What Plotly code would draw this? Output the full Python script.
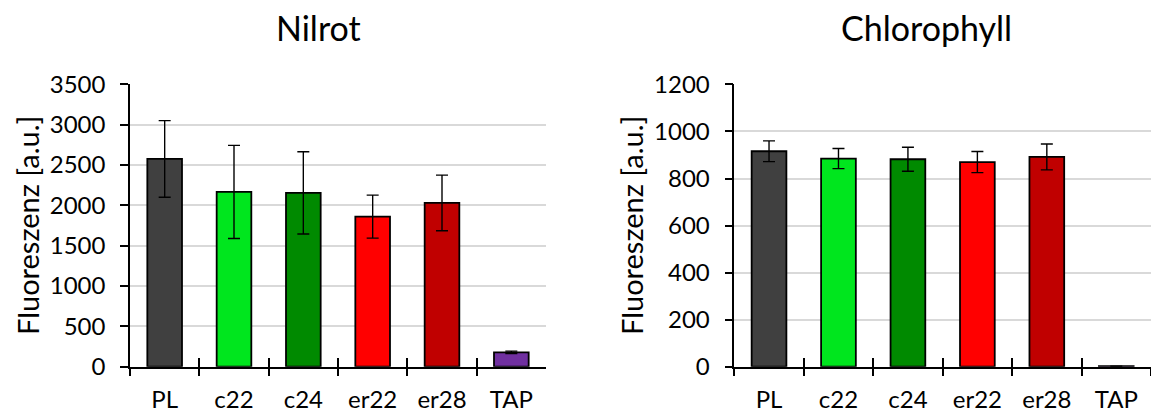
import plotly.graph_objects as go

categories = ["PL", "c22", "c24", "er22", "er28", "TAP"]
colors = ["#404040", "#00E61E", "#008A00", "#FF0000", "#C00000", "#7030A0"]

nilrot_values = [2577, 2167, 2155, 1861, 2031, 178]
nilrot_errors = [475, 577, 510, 267, 345, 15]

chloro_values = [916, 885, 882, 870, 892, 2]
chloro_errors = [44, 43, 51, 45, 55, 0]

nilrot_title = "Nilrot"
chloro_title = "Chlorophyll"
y_label = "Fluoreszenz [a.u.]"

FONT = "Lato"
fig = go.Figure()

def add_bars(vals, errs, xa, ya):
    fig.add_trace(go.Bar(
        x=categories, y=vals, xaxis=xa, yaxis=ya,
        marker=dict(color=colors, line=dict(color="black", width=1.8)),
        error_y=dict(type="data", array=errs, visible=True, color="black",
                     thickness=1.4, width=6),
        showlegend=False, hoverinfo="skip",
    ))

add_bars(nilrot_values, nilrot_errors, "x", "y")
add_bars(chloro_values, chloro_errors, "x2", "y2")

# invisible helper traces for inside (crossing) ticks on category axes
for xa, ya in (("x3", "y"), ("x4", "y2")):
    fig.add_trace(go.Scatter(x=categories, y=[0] * len(categories), xaxis=xa, yaxis=ya,
                             mode="markers", marker=dict(opacity=0),
                             showlegend=False, hoverinfo="skip"))

ydom = [0.1185, 0.797]
left_dom = [130 / 1151, 546 / 1151]
right_dom = [734.3 / 1151, 1.0]

tickfont = dict(family=FONT, size=24, color="black")

def xaxis_cfg(dom, anchor):
    return dict(domain=dom, anchor=anchor, type="category", categoryarray=categories,
                categoryorder="array", range=[-0.5, 5.5],
                showline=True, linecolor="black", linewidth=1.5,
                ticks="outside", tickson="boundaries", ticklen=8, tickwidth=1.5,
                tickcolor="black", showgrid=False, tickfont=tickfont,
                ticklabelstandoff=11, automargin=False, fixedrange=True)

def xaxis_inside(over, anchor):
    return dict(overlaying=over, anchor=anchor, type="category", categoryarray=categories,
                categoryorder="array", range=[-0.5, 5.5],
                showline=False, ticks="inside", tickson="boundaries", ticklen=9,
                tickwidth=1.5, tickcolor="black", showgrid=False,
                showticklabels=False, automargin=False, fixedrange=True)

def yaxis_cfg(rng, dtick, anchor):
    return dict(domain=ydom, anchor=anchor, range=rng, dtick=dtick, tick0=0,
                showline=True, linecolor="black", linewidth=1.5,
                ticks="outside", ticklen=8, tickwidth=1.5, tickcolor="black",
                showgrid=True, gridcolor="#D9D9D9", gridwidth=2,
                zeroline=False, tickfont=tickfont, ticklabelstandoff=10,
                automargin=False, fixedrange=True)

def yaxis_inside(over, anchor, rng, dtick):
    return dict(overlaying=over, anchor=anchor, range=rng, dtick=dtick, tick0=0,
                side="left", showline=False, ticks="inside", ticklen=9, tickwidth=1.5,
                tickcolor="black", showgrid=False, zeroline=False,
                showticklabels=False, automargin=False, fixedrange=True)

fig.update_layout(
    width=1151, height=416,
    margin=dict(l=0, r=0, t=0, b=0),
    paper_bgcolor="white", plot_bgcolor="white",
    bargap=0.5,
    font=dict(family=FONT, color="black"),
    xaxis=xaxis_cfg(left_dom, "y"),
    yaxis=yaxis_cfg([0, 3500], 500, "x"),
    xaxis2=xaxis_cfg(right_dom, "y2"),
    yaxis2=yaxis_cfg([0, 1200], 200, "x2"),
    xaxis3=xaxis_inside("x", "y"),
    xaxis4=xaxis_inside("x2", "y2"),
    yaxis3=yaxis_inside("y", "x", [0, 3500], 500),
    yaxis4=yaxis_inside("y2", "x2", [0, 1200], 200),
    annotations=[
        dict(text=nilrot_title, x=318 / 1151, y=(416 - 28) / 416, xref="paper", yref="paper",
             showarrow=False, font=dict(family=FONT, size=34, color="black"),
             xanchor="center", yanchor="middle"),
        dict(text=chloro_title, x=926 / 1151, y=(416 - 28) / 416, xref="paper", yref="paper",
             showarrow=False, font=dict(family=FONT, size=34, color="black"),
             xanchor="center", yanchor="middle"),
        dict(text=y_label, x=27 / 1151, y=(416 - 226) / 416, xref="paper", yref="paper",
             showarrow=False, textangle=-90, font=dict(family=FONT, size=29, color="black"),
             xanchor="center", yanchor="middle"),
        dict(text=y_label, x=631 / 1151, y=(416 - 226) / 416, xref="paper", yref="paper",
             showarrow=False, textangle=-90, font=dict(family=FONT, size=29, color="black"),
             xanchor="center", yanchor="middle"),
    ],
)

fig.write_html("out.html")
